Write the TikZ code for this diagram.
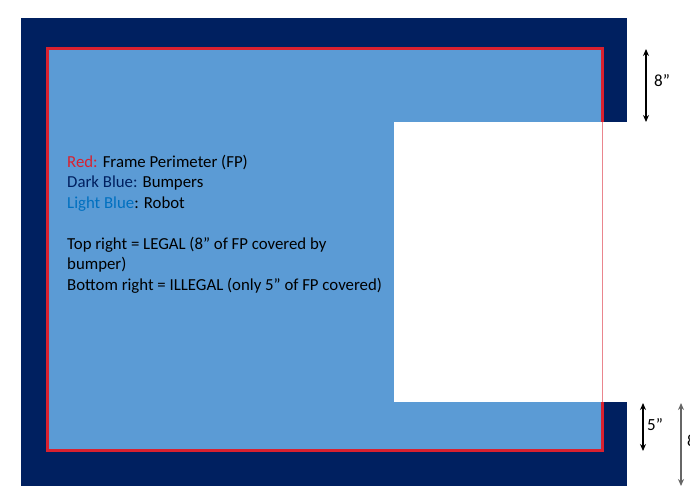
\documentclass[tikz,border=0pt]{standalone}
\usepackage{fontspec}
\setmainfont{Carlito}
\usepackage{tikz}
\usetikzlibrary{arrows.meta}

\definecolor{bumperblue}{HTML}{002060}
\definecolor{robotblue}{HTML}{5B9BD5}
\definecolor{fpred}{HTML}{D9212F}
\definecolor{keyblue}{HTML}{0070C0}

\tikzset{
  dim/.style = {{Stealth[length=7pt,width=6pt]}-{Stealth[length=7pt,width=6pt]}, line width=1.1pt},
  dimlabel/.style = {font=\fontsize{17}{20}\selectfont, anchor=west, inner sep=0pt}
}

\begin{document}
\begin{tikzpicture}[x=1pt, y=-1pt]
 \useasboundingbox (0,0) rectangle (690,500);
 % bumper, robot and frame perimeter
 \fill[bumperblue] (21,18) rectangle (627,486);
 \fill[robotblue] (47,49) rectangle (602,450);
 \draw[fpred, line width=3pt] (47,49) rectangle (602,450);
 \fill[white] (394,122) rectangle (628,402);
 \draw[fpred!55, line width=1.2pt] (602.5,122) -- (602.5,402);

 \node[anchor=base west, align=left, inner sep=0pt,
       font=\fontsize{16.8}{20.5}\selectfont] (key) at (67,290)
   {\textcolor{fpred}{Red:} Frame Perimeter (FP)\\
    \textcolor{bumperblue}{Dark Blue:} Bumpers\\
    \textcolor{keyblue}{Light Blue}: Robot\\[20.5pt]
    Top right = LEGAL (8\textquotedblright{} of FP covered by\\
    bumper)\\
    Bottom right = ILLEGAL (only 5\textquotedblright{} of FP covered)};

 % dimension arrows
 \coordinate (top8a) at (646,49);
 \coordinate (top8b) at (646,122);
 \coordinate (bot5a) at (643,403);
 \coordinate (bot5b) at (643,451);
 \coordinate (bot8a) at (681,403);
 \coordinate (bot8b) at (681,486);
 \draw[dim] (top8a) -- (top8b);
 \draw[dim] (bot5a) -- (bot5b);
 \draw[dim, gray!80!black, line width=1.6pt] (bot8a) -- (bot8b);
 \node[dimlabel] (l8) at (654,81) {8\textquotedblright};
 \node[dimlabel] (l5) at (647,425) {5\textquotedblright};
 \node[dimlabel] (l8b) at (687,441) {8\textquotedblright};
\end{tikzpicture}
\end{document}
